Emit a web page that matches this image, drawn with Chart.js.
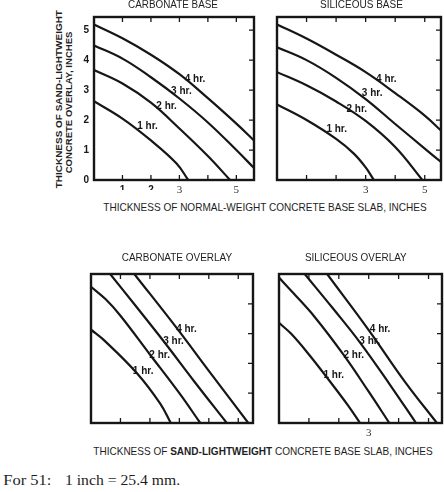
<!DOCTYPE html>
<html>
<head>
<meta charset="utf-8">
<style>
  html, body { margin: 0; padding: 0; background: #fff; }
  #page { position: relative; width: 444px; height: 492px; overflow: hidden; }
  canvas { position: absolute; }
  .t { position: absolute; left: 0; top: 0; white-space: nowrap; line-height: 1; color: #1e1e1e;
       transform-origin: 0 0; font-family: "Liberation Sans", Arial, sans-serif; }
  .serif { font-family: "Liberation Serif", "Times New Roman", serif; }
</style>
<script src="https://cdn.jsdelivr.net/npm/chart.js@4.4.1/dist/chart.umd.min.js"></script>
</head>
<body>
<div id="page"></div>
<script>
// ======================== DATA ========================
const HOUR_LABELS = ['1 hr.', '2 hr.', '3 hr.', '4 hr.'];

// carbonate base: x = normal-weight base slab, y = sand-lightweight overlay (inches)
const carbBase1 = [[0, 2.63], [1, 2.05], [2, 1.32], [2.9, 0.55], [3.31, 0]];
const carbBase2 = [[0, 3.67], [1, 3.22], [2, 2.58], [3, 1.72], [4, 0.8], [4.78, 0]];
const carbBase3 = [[0, 4.49], [1, 4.05], [2, 3.43], [3, 2.72], [4, 1.92], [5, 1.0], [5.62, 0.4]];
const carbBase4 = [[0, 5.19], [1, 4.73], [2, 4.18], [3, 3.53], [4, 2.73], [5, 1.88], [5.62, 1.32]];
const carbBaseLabelAt = [[1.88, 1.78], [2.55, 2.45], [3.07, 2.95], [3.55, 3.37]];

// siliceous base
const silBase1 = [[0, 2.52], [1, 2.0], [2, 1.37], [2.6, 0.88], [3, 0.42], [3.28, 0]];
const silBase2 = [[0, 3.6], [1, 3.16], [2, 2.62], [3, 1.97], [4, 1.1], [4.92, 0]];
const silBase3 = [[0, 4.43], [1, 4.0], [2, 3.41], [3, 2.7], [4, 1.87], [5, 1.05], [5.55, 0.6]];
const silBase4 = [[0, 5.19], [1, 4.72], [2, 4.18], [3, 3.6], [4, 2.9], [5, 2.15], [5.55, 1.65]];
const silBaseLabelAt = [[2.02, 1.69], [2.70, 2.37], [3.22, 2.9], [3.70, 3.37]];

// carbonate overlay: x = sand-lightweight base slab
const carbOver1 = [[0, 3.13], [0.43, 2.79], [1.56, 1.67], [2.35, 0.65], [2.71, 0]];
const carbOver2 = [[0, 4.57], [0.5, 4.15], [1, 3.6], [2, 2.3], [3, 1.0], [3.71, 0]];
const carbOver3 = [[0.65, 5], [1.5, 3.95], [2.5, 2.7], [3.5, 1.4], [4.61, 0]];
const carbOver4 = [[1.47, 5], [2.9, 3.2], [4, 1.75], [5.34, 0]];
const carbOverLabelAt = [[1.77, 1.72], [2.33, 2.28], [2.80, 2.73], [3.24, 3.14]];

// siliceous overlay
const silOver1 = [[0, 3.36], [0.4, 3.0], [1.0, 2.3], [1.7, 1.4], [2.3, 0.6], [2.71, 0]];
const silOver2 = [[0, 4.88], [0.47, 4.37], [1.2, 3.55], [2.15, 2.3], [3.0, 1.05], [3.69, 0]];
const silOver3 = [[0.86, 5], [1.8, 3.85], [2.71, 2.7], [3.7, 1.3], [4.58, 0]];
const silOver4 = [[1.61, 5], [3.0, 3.12], [4.2, 1.4], [5.28, 0]];
const silOverLabelAt = [[1.83, 1.61], [2.50, 2.26], [3.03, 2.73], [3.38, 3.14]];

// tick labels (index = value)
const overlayYTicks = ['0', '1', '2', '3', '4', '5'];
const carbBaseXTicks = ['', '1', '2', '3', '', '5'];
const silBaseXTicks = ['', '', '', '3', '', '5'];
const silOverXTicks = ['', '', '', '3', '', ''];
const SERIF_TICKS = ['3', '5'];

// ======================== STYLE ========================
const INK = '#161616';
const SANS = '"Liberation Sans", Arial, sans-serif';
const SERIF = '"Liberation Serif", "Times New Roman", serif';
const PAD = 20;
const page = document.getElementById('page');

// ======================== PANELS ========================
function makePanel(box, xMax, yMax, curves, labelAt, xTicks, yTicks) {
  const canvas = document.createElement('canvas');
  const w = box.R - box.L + 2 * PAD, h = box.B - box.T + 2 * PAD;
  canvas.width = w; canvas.height = h;
  canvas.style.left = (box.L - PAD) + 'px';
  canvas.style.top = (box.T - PAD) + 'px';
  canvas.style.width = w + 'px';
  canvas.style.height = h + 'px';
  page.appendChild(canvas);

  const frame = {
    id: 'frame',
    afterDatasetsDraw(chart) {
      const { ctx, chartArea: a, scales: { x, y } } = chart;
      ctx.save();
      ctx.strokeStyle = INK;
      ctx.lineWidth = 2.4;
      ctx.strokeRect(a.left, a.top, a.right - a.left, a.bottom - a.top);

      // inward tick marks: top, bottom, right
      ctx.lineWidth = 1.3;
      ctx.beginPath();
      for (let v = 1; v < x.max; v++) {
        const px = x.getPixelForValue(v);
        ctx.moveTo(px, a.top); ctx.lineTo(px, a.top + 5);
        ctx.moveTo(px, a.bottom); ctx.lineTo(px, a.bottom - 5);
      }
      for (let v = 1; v < y.max; v++) {
        const py = y.getPixelForValue(v);
        ctx.moveTo(a.right, py); ctx.lineTo(a.right - 5, py);
      }
      ctx.stroke();

      // curve labels
      ctx.fillStyle = INK;
      ctx.font = 'bold 10px ' + SANS;
      ctx.textAlign = 'center';
      ctx.textBaseline = 'middle';
      labelAt.forEach((p, i) => {
        ctx.fillText(HOUR_LABELS[i], x.getPixelForValue(p[0]), y.getPixelForValue(p[1]));
      });

      // x tick labels
      ctx.textBaseline = 'top';
      xTicks.forEach((t, v) => {
        if (!t) return;
        const px = x.getPixelForValue(v);
        if (SERIF_TICKS.includes(t)) {
          ctx.fillStyle = '#333';
          ctx.font = '11px ' + SERIF;
          ctx.fillText(t, px, a.bottom + 5);
        } else {
          ctx.save();
          ctx.beginPath();
          ctx.rect(px - 8, a.bottom + 2, 16, 8);
          ctx.clip();
          ctx.fillStyle = INK;
          ctx.font = 'bold 10px ' + SANS;
          ctx.fillText(t, px, a.bottom + 5);
          ctx.restore();
        }
      });

      // y tick labels
      ctx.fillStyle = INK;
      ctx.font = 'bold 10px ' + SANS;
      ctx.textAlign = 'right';
      ctx.textBaseline = 'middle';
      yTicks.forEach((t, v) => {
        if (t) ctx.fillText(t, a.left - 5, y.getPixelForValue(v) + 0.5);
      });
      ctx.restore();
    }
  };

  return new Chart(canvas, {
    type: 'line',
    data: {
      datasets: curves.map((c, i) => ({
        label: HOUR_LABELS[i],
        data: c,
        borderColor: INK,
        borderWidth: 2.2,
        pointRadius: 0,
        fill: false,
        tension: 0.4
      }))
    },
    options: {
      responsive: false,
      animation: false,
      layout: { padding: PAD },
      plugins: { legend: { display: false }, tooltip: { enabled: false } },
      scales: {
        x: { type: 'linear', min: 0, max: xMax, display: false },
        y: { type: 'linear', min: 0, max: yMax, display: false }
      }
    },
    plugins: [frame]
  });
}

makePanel({ L: 94, T: 17, R: 254, B: 180 }, 5.62, 5.44,
  [carbBase1, carbBase2, carbBase3, carbBase4], carbBaseLabelAt, carbBaseXTicks, overlayYTicks);
makePanel({ L: 277, T: 17, R: 441, B: 180 }, 5.55, 5.44,
  [silBase1, silBase2, silBase3, silBase4], silBaseLabelAt, silBaseXTicks, []);
makePanel({ L: 91, T: 274, R: 253, B: 423 }, 5.5, 5,
  [carbOver1, carbOver2, carbOver3, carbOver4], carbOverLabelAt, [], []);
makePanel({ L: 279, T: 274, R: 442, B: 423 }, 5.45, 5,
  [silOver1, silOver2, silOver3, silOver4], silOverLabelAt, silOverXTicks, []);

// ======================== TEXT ========================
function addText(html, left, baseline, width, fs, extra) {
  const el = document.createElement('div');
  el.className = 't' + (extra && extra.serif ? ' serif' : '');
  el.innerHTML = html;
  el.style.fontSize = fs + 'px';
  if (extra && extra.bold) el.style.fontWeight = 'bold';
  page.appendChild(el);
  const s = width / el.offsetWidth;
  const off = (extra && extra.serif ? 0.8375 : 0.8465) * fs;
  el.style.transform = `translate(${left}px, ${baseline - off}px) scaleX(${s})`;
}

function addVText(html, capLeft, startY, length, fs) {
  const el = document.createElement('div');
  el.className = 't';
  el.innerHTML = html;
  el.style.fontSize = fs + 'px';
  el.style.fontWeight = 'bold';
  page.appendChild(el);
  const s = length / el.offsetWidth;
  el.style.transform = `translate(${capLeft - 0.13 * fs}px, ${startY}px) rotate(-90deg) scaleX(${s})`;
}

addText('CARBONATE BASE', 128, 8.9, 90, 10);
addText('SILICEOUS BASE', 320, 8.9, 83, 10);
addText('THICKNESS OF NORMAL-WEIGHT CONCRETE BASE SLAB, INCHES', 103.3, 211, 323.4, 11);
addText('CARBONATE OVERLAY', 121.7, 261, 110.6, 10);
addText('SILICEOUS OVERLAY', 305, 261, 102, 10);
addText('THICKNESS OF <b>SAND-LIGHTWEIGHT</b> CONCRETE BASE SLAB, INCHES', 93.3, 455, 339, 10.5);
addText('For 51:', 3.3, 485.5, 48.4, 15, { serif: true });
addText('1 inch = 25.4 mm.', 65, 485.5, 115, 15, { serif: true });
addVText('THICKNESS OF SAND-LIGHTWEIGHT', 55.7, 188.3, 178.3, 9.5);
addVText('CONCRETE OVERLAY, INCHES', 65, 173.3, 141.6, 9.5);
</script>
</body>
</html>
